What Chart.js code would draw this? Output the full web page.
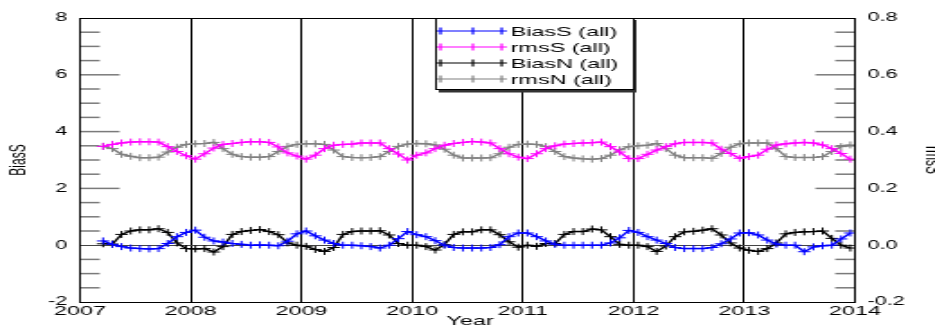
<!DOCTYPE html>
<html>
<head>
<meta charset="utf-8">
<script src="https://cdn.jsdelivr.net/npm/chart.js@4.4.1/dist/chart.umd.min.js"></script>
<style>
  html, body { margin: 0; padding: 0; background: #fff; overflow: hidden; }
  /* the original plot is drawn narrow and stretched sideways */
  #biasChart { display: block; transform: scaleX(1.798); transform-origin: 0 0; }
</style>
</head>
<body>
<canvas id="biasChart" width="520" height="329"></canvas>
<script>
// Monthly values, Mar 2007 .. Dec 2013 (one row per year)
const firstYear = 2007;
const firstMonth = 3;

const biasS = [
  0.15, 0.03, -0.05, -0.10, -0.12, -0.13, -0.12, 0.06, 0.30, 0.45,
  0.53, 0.28, 0.15, 0.11, 0.06, 0.03, 0.00, 0.01, 0.00, -0.02, 0.14, 0.40,
  0.50, 0.33, 0.18, 0.06, 0.00, 0.00, -0.02, -0.05, -0.10, 0.00, 0.23, 0.48,
  0.37, 0.30, 0.16, 0.00, -0.08, -0.10, -0.10, -0.10, -0.08, 0.02, 0.30, 0.43,
  0.43, 0.30, 0.15, 0.03, 0.00, 0.00, 0.00, 0.00, 0.00, 0.08, 0.26, 0.52,
  0.45, 0.30, 0.18, 0.06, -0.08, -0.12, -0.12, -0.12, -0.08, 0.05, 0.22, 0.43,
  0.44, 0.36, 0.18, 0.04, 0.00, 0.00, -0.23, -0.06, -0.02, 0.00, 0.22, 0.43
];

const biasN = [
  0.05, 0.04, 0.38, 0.50, 0.54, 0.54, 0.58, 0.45, 0.08, -0.12,
  -0.13, -0.12, -0.24, -0.05, 0.38, 0.48, 0.52, 0.55, 0.48, 0.37, 0.08, 0.00,
  -0.04, -0.15, -0.22, -0.08, 0.38, 0.48, 0.50, 0.50, 0.51, 0.36, 0.06, 0.00,
  0.00, -0.05, -0.17, 0.02, 0.38, 0.47, 0.47, 0.54, 0.54, 0.37, 0.12, -0.07,
  0.00, -0.04, 0.06, 0.06, 0.38, 0.48, 0.48, 0.57, 0.54, 0.30, 0.03, 0.00,
  0.00, -0.05, -0.22, -0.03, 0.30, 0.47, 0.49, 0.53, 0.58, 0.36, 0.08, -0.10,
  -0.18, -0.22, -0.12, 0.08, 0.40, 0.45, 0.47, 0.48, 0.50, 0.24, 0.00, -0.10
];

const rmsS = [
  0.348, 0.355, 0.360, 0.363, 0.364, 0.364, 0.363, 0.347, 0.330, 0.315,
  0.303, 0.322, 0.342, 0.355, 0.358, 0.362, 0.364, 0.364, 0.362, 0.346, 0.325, 0.314,
  0.303, 0.317, 0.340, 0.352, 0.355, 0.356, 0.360, 0.360, 0.360, 0.340, 0.321, 0.300,
  0.317, 0.325, 0.340, 0.352, 0.358, 0.362, 0.365, 0.363, 0.360, 0.340, 0.322, 0.310,
  0.305, 0.322, 0.340, 0.350, 0.356, 0.358, 0.360, 0.361, 0.363, 0.347, 0.328, 0.305,
  0.305, 0.320, 0.335, 0.347, 0.357, 0.362, 0.362, 0.362, 0.360, 0.338, 0.323, 0.306,
  0.312, 0.317, 0.338, 0.353, 0.357, 0.360, 0.362, 0.360, 0.353, 0.340, 0.323, 0.303
];

const rmsN = [
  0.348, 0.340, 0.320, 0.313, 0.308, 0.308, 0.310, 0.328, 0.345, 0.355,
  0.357, 0.358, 0.362, 0.340, 0.320, 0.312, 0.310, 0.310, 0.312, 0.330, 0.348, 0.355,
  0.357, 0.357, 0.355, 0.335, 0.312, 0.309, 0.308, 0.309, 0.312, 0.330, 0.348, 0.356,
  0.358, 0.357, 0.353, 0.338, 0.317, 0.307, 0.307, 0.307, 0.308, 0.322, 0.345, 0.355,
  0.356, 0.355, 0.347, 0.330, 0.312, 0.307, 0.304, 0.303, 0.305, 0.317, 0.336, 0.347,
  0.350, 0.352, 0.358, 0.340, 0.317, 0.308, 0.308, 0.308, 0.306, 0.323, 0.345, 0.357,
  0.360, 0.360, 0.360, 0.340, 0.312, 0.309, 0.309, 0.309, 0.312, 0.330, 0.347, 0.353
];

const yearTicks = [2007, 2008, 2009, 2010, 2011, 2012, 2013, 2014];
const seriesNames = ['BiasS (all)', 'rmsS (all)', 'BiasN (all)', 'rmsN (all)'];
const seriesColors = ['#0000ff', '#ff00ff', '#000000', '#808080'];

// x position of each month = middle of the month in decimal years
const timePoints = [];
for (let y = firstYear, m = firstMonth; timePoints.length < biasS.length; m++) {
  if (m > 12) { m = 1; y++; }
  timePoints.push(y + (m - 0.5) / 12);
}
const toPoints = vals => vals.map((v, i) => ({ x: timePoints[i], y: v }));

const FONT = "'Liberation Sans', Arial, Helvetica, sans-serif";
Chart.defaults.font.family = FONT;
Chart.defaults.color = '#000';

function makeSet(i, vals, axis) {
  return {
    label: seriesNames[i],
    data: toPoints(vals),
    yAxisID: axis,
    borderColor: seriesColors[i],
    backgroundColor: seriesColors[i],
    borderWidth: 1.5,
    pointStyle: 'cross',
    pointRadius: 3.5,
    pointBorderWidth: 1,
    pointBorderColor: seriesColors[i],
    tension: 0
  };
}

// inner tick marks, zero line, frame, legend box and axis titles
const decorations = {
  id: 'decorations',
  beforeDatasetsDraw(chart) {
    const { ctx, chartArea: a, scales } = chart;
    const line = (x1, y1, x2, y2) => { ctx.beginPath(); ctx.moveTo(x1, y1); ctx.lineTo(x2, y2); ctx.stroke(); };
    ctx.save();
    ctx.strokeStyle = '#7a7a7a';
    ctx.lineWidth = 1.5;
    for (let v = -1.5; v < 8; v += 0.5) {
      if (v === 0) continue;
      const len = v % 2 === 0 ? 22 : 11;
      const py = scales.y.getPixelForValue(v);
      line(a.left, py, a.left + len, py);
      line(a.right - len, py, a.right, py);
    }
    ctx.strokeStyle = '#444';
    ctx.lineWidth = 1;
    const zy = Math.round(scales.y.getPixelForValue(0)) + 0.5;
    line(a.left, zy, a.right, zy);
    ctx.restore();
  },
  afterDraw(chart) {
    const { ctx, chartArea: a } = chart;
    ctx.save();
    ctx.strokeStyle = '#000';
    ctx.lineWidth = 1;
    ctx.strokeRect(a.left, Math.round(a.top) + 0.5, a.right - a.left, Math.round(a.bottom) - Math.round(a.top));

    // legend
    const lx = 242, ly = 18, lw = 110, lh = 71;
    ctx.fillStyle = '#333';
    ctx.fillRect(lx + 2, ly + 2, lw, lh + 1.5);
    ctx.fillStyle = '#fff';
    ctx.fillRect(lx, ly, lw, lh);
    ctx.strokeRect(lx + 0.5, ly + 0.5, lw, lh);
    ctx.font = '13px ' + FONT;
    ctx.textBaseline = 'middle';
    ctx.textAlign = 'left';
    seriesNames.forEach((name, i) => {
      const ry = 31 + i * 16;
      ctx.strokeStyle = seriesColors[i];
      ctx.lineWidth = 1.2;
      ctx.beginPath(); ctx.moveTo(243, ry); ctx.lineTo(282, ry); ctx.stroke();
      [245, 263, 279].forEach(mx => {
        ctx.beginPath(); ctx.moveTo(mx, ry - 3.5); ctx.lineTo(mx, ry + 3.5); ctx.stroke();
      });
      ctx.fillStyle = '#000';
      ctx.fillText(name, 284, ry + 1);
    });

    // axis titles
    ctx.fillStyle = '#000';
    ctx.font = '12px ' + FONT;
    ctx.textAlign = 'center';
    ctx.save();
    ctx.translate(11, 160);
    ctx.rotate(-Math.PI / 2);
    ctx.fillText('BiasS', 0, 0);
    ctx.restore();
    ctx.save();
    ctx.translate(518, 160);
    ctx.rotate(Math.PI / 2);
    ctx.fillText('rmsS', 0, 0);
    ctx.restore();
    ctx.font = '13px ' + FONT;
    ctx.fillText('Year', 261.5, 321);
    ctx.restore();
  }
};

new Chart(document.getElementById('biasChart'), {
  type: 'line',
  data: {
    datasets: [
      makeSet(0, biasS, 'y'),
      makeSet(1, rmsS, 'y1'),
      makeSet(2, biasN, 'y'),
      makeSet(3, rmsN, 'y1')
    ]
  },
  options: {
    responsive: false,
    devicePixelRatio: 1,
    animation: false,
    layout: { padding: { top: 18, left: 0, right: 0, bottom: 0 } },
    plugins: { legend: { display: false }, tooltip: { enabled: false } },
    scales: {
      x: {
        type: 'linear',
        min: 2007,
        max: 2014,
        afterBuildTicks: scale => { scale.ticks = yearTicks.map(v => ({ value: v })); },
        afterFit: scale => { scale.height = 27; },
        grid: { color: '#000', lineWidth: 1, drawTicks: false },
        border: { display: false },
        ticks: {
          font: { size: 13 },
          padding: 2,
          maxRotation: 0,
          autoSkip: false,
          callback: v => String(v)
        }
      },
      y: {
        position: 'left',
        min: -2,
        max: 8,
        afterFit: scale => { scale.width = 44.5; },
        grid: { display: false, drawTicks: false },
        border: { display: false },
        ticks: { stepSize: 2, font: { size: 12 }, padding: 7 }
      },
      y1: {
        position: 'right',
        min: -0.2,
        max: 0.8,
        afterFit: scale => { scale.width = 44.5; },
        grid: { display: false, drawTicks: false },
        border: { display: false },
        ticks: { stepSize: 0.2, font: { size: 12 }, padding: 7, callback: v => Number(v).toFixed(1) }
      }
    }
  },
  plugins: [decorations]
});
</script>
</body>
</html>
